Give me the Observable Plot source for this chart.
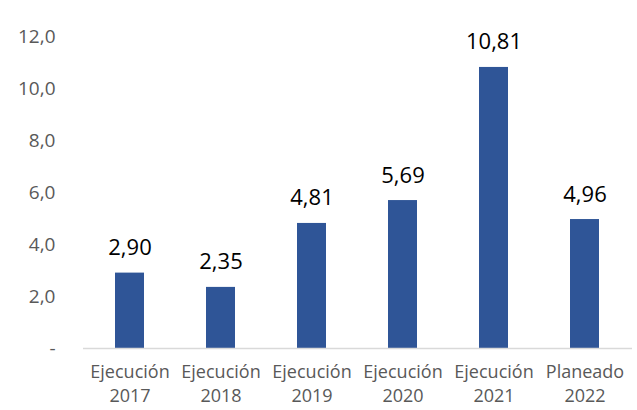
<!DOCTYPE html>
<html>
<head>
<meta charset="utf-8">
<script src="https://cdn.jsdelivr.net/npm/d3@7"></script>
<script src="https://cdn.jsdelivr.net/npm/@observablehq/plot@0.6"></script>
<style>
  html, body { margin: 0; padding: 0; background: #fff; }
  #chart { width: 637px; height: 410px; }
</style>
</head>
<body>
<div id="chart"></div>
<script>
// Bar categories (two-line labels) and their values
const stages = ["Ejecución", "Ejecución", "Ejecución", "Ejecución", "Ejecución", "Planeado"];
const years = ["2017", "2018", "2019", "2020", "2021", "2022"];
const values = [2.90, 2.35, 4.81, 5.69, 10.81, 4.96];
const yTicks = [0, 2, 4, 6, 8, 10, 12];

const data = stages.map((s, i) => ({ label: `${s}\n${years[i]}`, value: values[i] }));
const comma = (v, digits) => v.toFixed(digits).replace(".", ",");

const chart = Plot.plot({
  width: 637,
  height: 410,
  marginLeft: 83,
  marginRight: 5,
  marginTop: 36,
  marginBottom: 62,
  style: { fontFamily: "'Open Sans', sans-serif", background: "#fff" },
  x: { domain: data.map(d => d.label), paddingInner: 0.68, paddingOuter: 0.34, label: null },
  y: { domain: [0, 12], label: null },
  marks: [
    Plot.barY(data, { x: "label", y: "value", fill: "#2F5597" }),
    Plot.ruleY([0], { stroke: "#d9d9d9", strokeWidth: 1.5 }),
    Plot.text(data, {
      x: "label", y: "value", text: d => comma(d.value, 2),
      lineAnchor: "bottom", dy: -18, fontSize: 22, fill: "#000"
    }),
    Plot.axisY({
      ticks: yTicks, tickSize: 0, tickPadding: 28,
      tickFormat: d => d === 0 ? "-" : comma(d, 1),
      fontSize: 19, fill: "#595959", label: null
    }),
    Plot.axisX({
      tickSize: 0, tickPadding: 13, fontSize: 18, lineHeight: 1.3,
      fill: "#595959", label: null
    })
  ]
});
document.getElementById("chart").appendChild(chart);
</script>
</body>
</html>
